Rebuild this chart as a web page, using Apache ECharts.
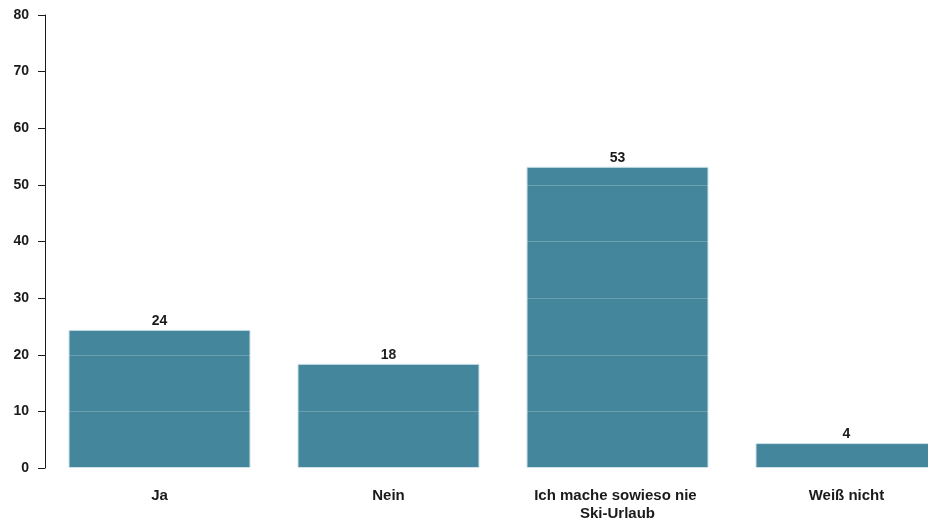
<!DOCTYPE html>
<html>
<head>
<meta charset="utf-8">
<script src="https://cdn.jsdelivr.net/npm/echarts@6/dist/echarts.min.js"></script>
<style>
html,body{margin:0;padding:0;background:#fff;}
#c{width:928px;height:523px;}
</style>
</head>
<body>
<div id="c"></div>
<script>
const categories = ["Ja", "Nein", "Ich mache sowieso nie Ski-Urlaub", "Weiß nicht"];
const values = [24.4, 18.4, 53.2, 4.4];
const yTicks = { min: 0, max: 80, interval: 10 };

const chart = echarts.init(document.getElementById('c'), null, { renderer: 'canvas' });
const font = '"Liberation Sans", Arial, sans-serif';
chart.setOption({
  animation: false,
  backgroundColor: '#ffffff',
  grid: { left: 45, top: 15, right: -33, bottom: 55, containLabel: false, outerBoundsMode: 'none' },
  xAxis: {
    type: 'category',
    data: categories,
    axisLine: { show: false },
    axisTick: { show: false },
    axisLabel: {
      margin: 19,
      fontFamily: font,
      fontWeight: 'bold',
      fontSize: 15,
      color: '#1a1a1a',
      width: 200,
      overflow: 'break',
      lineHeight: 18,
      interval: 0
    }
  },
  yAxis: {
    type: 'value',
    min: yTicks.min,
    max: yTicks.max,
    interval: yTicks.interval,
    z: 5,
    axisLine: { show: true, lineStyle: { color: '#1a1a1a', width: 1 } },
    axisTick: { show: true, length: 7, lineStyle: { color: '#1a1a1a' } },
    axisLabel: {
      margin: 16,
      fontFamily: font,
      fontWeight: 'bold',
      fontSize: 14,
      color: '#1a1a1a'
    },
    splitLine: { show: true, lineStyle: { color: 'rgba(255,255,255,0.2)', width: 1 } }
  },
  series: [{
    type: 'bar',
    data: values,
    barWidth: 182,
    z: 2,
    itemStyle: { color: '#44879c', borderColor: '#cfe3ea', borderWidth: 1 },
    label: {
      show: true,
      position: 'top',
      distance: 2,
      fontFamily: font,
      fontWeight: 'bold',
      fontSize: 14,
      color: '#1a1a1a',
      formatter: p => Math.round(p.value)
    }
  }]
});
</script>
</body>
</html>
